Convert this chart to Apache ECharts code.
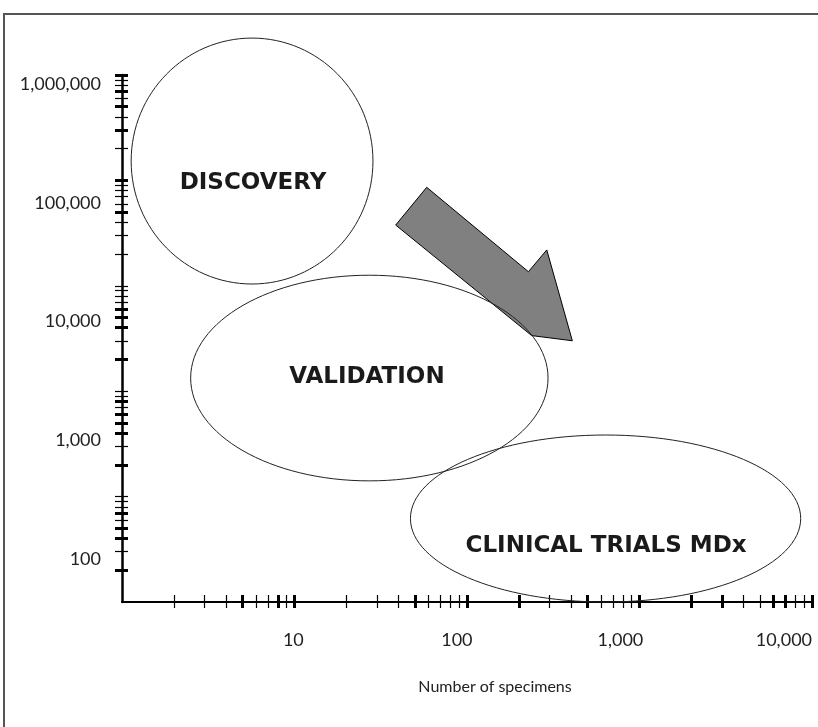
<!DOCTYPE html>
<html>
<head>
<meta charset="UTF-8">
<title>Number of specimens</title>
<script src="https://cdn.jsdelivr.net/npm/echarts@6/dist/echarts.min.js"></script>
<style>
    html, body { margin: 0; padding: 0; background: #fff; }
    #main { width: 818px; height: 727px; }
</style>
</head>
<body>
<div id="main"></div>
<script>
// tick marks, raw values (log scales on both axes)
var xTicks = [2, 3, 4, 5, 6, 7, 8, 9, 10,
    20, 30, 40, 50, 60, 70, 80, 90, 100,
    200, 300, 400, 500, 600, 700, 800, 900, 1000,
    2000, 3000, 4000, 5000, 6000, 7000, 8000, 9000, 10000];
var xThick = [5, 8, 10, 50, 100, 200, 500, 1000, 2000, 3000, 6000, 7000, 10000];
var yTicks = [20, 30, 40, 50, 60, 70, 80, 90, 100,
    200, 300, 400, 500, 600, 700, 800, 900, 1000,
    2000, 3000, 4000, 5000, 6000, 7000, 8000, 9000, 10000,
    20000, 30000, 40000, 50000, 60000, 70000, 80000, 90000, 100000,
    200000, 300000, 400000, 500000, 600000, 700000, 800000, 900000, 1000000];
var yThick = [20, 40, 50, 70, 200, 400, 500, 600, 800, 2000, 4000, 5000, 6000,
    50000, 100000, 300000, 500000, 700000, 1000000];

// printed labels (they sit a bit off the decade ticks in the original)
var xLabels = [10, 100, 1000, 10000];
var yLabels = [100, 1000, 10000, 100000, 1000000];

// the three phases: extent of each ellipse and where its name sits
var phases = ['DISCOVERY', 'VALIDATION', 'CLINICAL TRIALS MDx'];
var specMin = [1.13, 2.5, 47];
var specMax = [28.5, 295, 8600];
var featMin = [10400, 141, 10];
var featMax = [2240000, 12600, 384];
var nameSpec = [5.75, 26.3, 640];
var nameFeat = [94000, 1365, 34];

// big grey arrow outline
var arrowSpec = [58.4, 227, 290, 408, 237, 38.6];
var arrowFeat = [86000, 13600, 21900, 3010, 3370, 37700];

var lg = Math.log10;
var FONT = 'Lato, "Open Sans", sans-serif';

function fmt(v) {
    return Math.round(Math.pow(10, v)).toLocaleString('en-US');
}

function tickAxis(min, max, vals, width, pos, offset, len) {
    return {
        type: 'value', position: pos, min: min, max: max, offset: offset,
        axisLine: { show: false, onZero: false },
        axisTick: { show: true, inside: true, length: len, customValues: vals.map(lg),
            lineStyle: { color: '#000', width: width } },
        axisLabel: { show: false },
        splitLine: { show: false }
    };
}

var myChart = echarts.init(document.getElementById('main'));

var option = {
    backgroundColor: '#fff',
    animation: false,
    grid: { left: 122, right: 6, top: 75, bottom: 125, containLabel: false },
    graphic: [{
        type: 'rect', silent: true,
        shape: { x: 4, y: 14, width: 1000, height: 1000 },
        style: { fill: 'none', stroke: '#555', lineWidth: 2 }
    }],
    xAxis: [
        {
            type: 'value', position: 'bottom', min: 0, max: 4,
            axisLine: { onZero: false, lineStyle: { color: '#000', width: 2 } },
            axisTick: { show: false }, axisLabel: { show: false }, splitLine: { show: false }
        },
        tickAxis(0, 4, xTicks, 1.2, 'bottom', 6, 13),
        tickAxis(0, 4, xThick, 3, 'bottom', 6, 13),
        {
            type: 'value', position: 'bottom', min: -0.048, max: 4.172,
            axisLine: { show: false, onZero: false }, axisTick: { show: false },
            splitLine: { show: false },
            axisLabel: { customValues: xLabels.map(lg), formatter: fmt, margin: 29,
                fontFamily: FONT, fontSize: 18, color: '#222' },
            name: 'Number of specimens', nameLocation: 'middle', nameGap: 77,
            nameTextStyle: { fontFamily: FONT, fontSize: 16, color: '#222', padding: [0, 0, 0, 56] }
        }
    ],
    yAxis: [
        {
            type: 'value', position: 'left', min: 1, max: 6,
            axisLine: { onZero: false, lineStyle: { color: '#000', width: 2.5 } },
            axisTick: { show: false }, axisLabel: { show: false }, splitLine: { show: false }
        },
        tickAxis(1, 6, yTicks, 1.2, 'left', 7, 13),
        tickAxis(1, 6, yThick, 3, 'left', 7, 13),
        {
            type: 'value', position: 'left', min: 1.636, max: 6.076,
            axisLine: { show: false, onZero: false }, axisTick: { show: false },
            splitLine: { show: false },
            axisLabel: { customValues: yLabels.map(lg), formatter: fmt, margin: 21,
                fontFamily: FONT, fontSize: 18, color: '#222' }
        }
    ],
    series: [
        {
            // arrow
            type: 'custom', xAxisIndex: 0, yAxisIndex: 0, z: 2, silent: true,
            data: [0],
            renderItem: function (params, api) {
                var pts = arrowSpec.map(function (s, i) {
                    return api.coord([lg(s), lg(arrowFeat[i])]);
                });
                return {
                    type: 'polygon',
                    shape: { points: pts },
                    style: { fill: '#808080', stroke: '#000', lineWidth: 1 }
                };
            }
        },
        {
            // phase ellipses
            type: 'custom', xAxisIndex: 0, yAxisIndex: 0, z: 3, silent: true,
            data: phases.map(function (p, i) {
                return [lg(specMin[i]), lg(featMin[i]), lg(specMax[i]), lg(featMax[i])];
            }),
            renderItem: function (params, api) {
                var a = api.coord([api.value(0), api.value(1)]);
                var b = api.coord([api.value(2), api.value(3)]);
                return {
                    type: 'ellipse',
                    shape: {
                        cx: (a[0] + b[0]) / 2, cy: (a[1] + b[1]) / 2,
                        rx: Math.abs(b[0] - a[0]) / 2, ry: Math.abs(b[1] - a[1]) / 2
                    },
                    style: { fill: 'none', stroke: '#222', lineWidth: 1 }
                };
            }
        },
        {
            // phase names
            type: 'custom', xAxisIndex: 0, yAxisIndex: 0, z: 4, silent: true,
            data: phases.map(function (p, i) {
                return [lg(nameSpec[i]), lg(nameFeat[i])];
            }),
            renderItem: function (params, api) {
                var p = api.coord([api.value(0), api.value(1)]);
                return {
                    type: 'text', x: p[0], y: p[1],
                    style: {
                        text: phases[params.dataIndex],
                        font: 'bold 23px "DejaVu Sans", sans-serif',
                        fill: '#1a1a1a', align: 'center', verticalAlign: 'middle'
                    }
                };
            }
        }
    ]
};

myChart.setOption(option);
</script>
</body>
</html>
